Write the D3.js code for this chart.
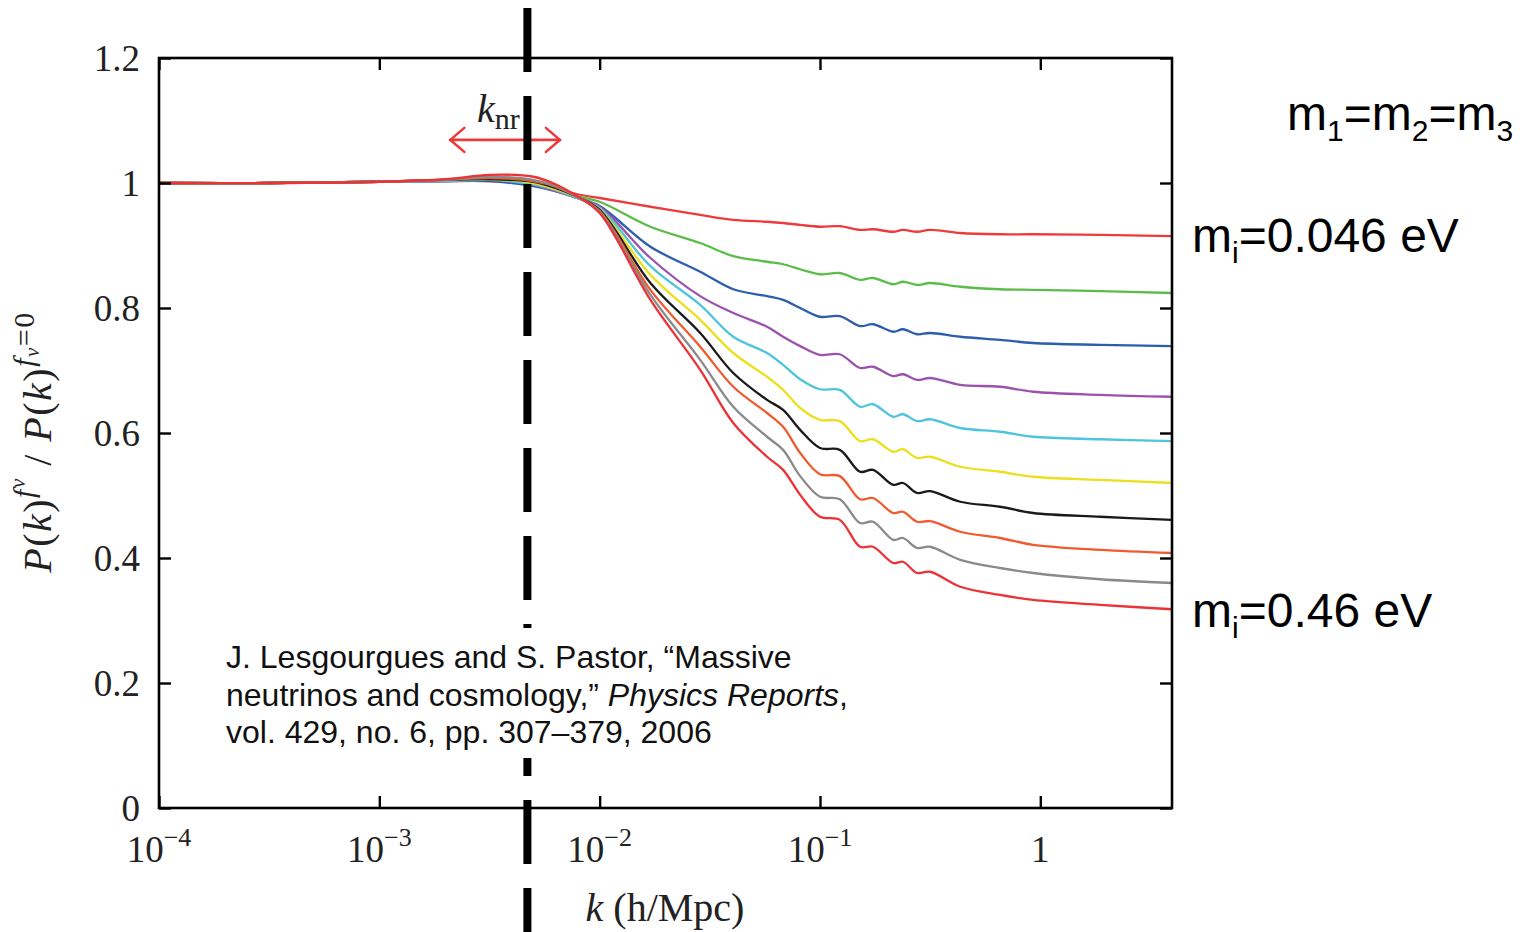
<!DOCTYPE html>
<html><head><meta charset="utf-8">
<script src="https://cdn.jsdelivr.net/npm/d3@7"></script>
<style>body{margin:0;background:#fff} svg{display:block}</style>
</head><body>
<svg id="c" width="1525" height="932"></svg>
<script>
// ---- data ----
const kValues = [0.0001, 0.000316, 0.001, 0.002, 0.00316, 0.005, 0.0063, 0.0079, 0.01, 0.017, 0.0286, 0.0404, 0.0575, 0.068, 0.0813, 0.1, 0.123, 0.152, 0.174, 0.215, 0.238, 0.276, 0.316, 0.433, 0.656, 0.927, 1.87, 3.96];
const seriesColors = ["#ee3a3c", "#5cbc4a", "#2d5ead", "#9b52ad", "#4fc4dd", "#ece01e", "#1a1a1a", "#f15a2e", "#8a8a8a", "#ec3237"];
const red1   = [1.000,1.000,1.002,1.003,1.003,0.998,0.992,0.982,0.976,0.962,0.949,0.941,0.938,0.936,0.933,0.930,0.931,0.925,0.926,0.922,0.925,0.922,0.925,0.920,0.918,0.918,0.917,0.915];
const green  = [1.000,1.000,1.002,1.003,1.005,0.998,0.990,0.979,0.970,0.930,0.904,0.883,0.874,0.870,0.862,0.854,0.856,0.845,0.848,0.838,0.842,0.837,0.840,0.834,0.830,0.829,0.827,0.824];
const blue   = [1.000,1.000,1.002,1.003,1.003,0.995,0.987,0.976,0.963,0.898,0.858,0.830,0.819,0.813,0.800,0.786,0.787,0.771,0.774,0.762,0.766,0.758,0.760,0.754,0.749,0.744,0.741,0.739];
const purple = [1.000,1.000,1.002,1.003,1.005,0.997,0.987,0.976,0.962,0.880,0.819,0.792,0.770,0.754,0.739,0.725,0.726,0.704,0.706,0.691,0.694,0.685,0.688,0.677,0.674,0.666,0.661,0.658];
const cyan   = [1.000,1.000,1.002,1.003,1.005,0.998,0.989,0.976,0.960,0.867,0.805,0.754,0.728,0.709,0.686,0.670,0.669,0.642,0.646,0.626,0.630,0.619,0.622,0.608,0.602,0.594,0.590,0.587];
const yellow = [1.000,1.000,1.002,1.005,1.006,1.000,0.990,0.978,0.958,0.853,0.781,0.728,0.690,0.669,0.640,0.621,0.619,0.587,0.590,0.570,0.574,0.560,0.562,0.546,0.538,0.530,0.525,0.520];
const black  = [1.000,1.000,1.002,1.005,1.006,1.002,0.992,0.978,0.957,0.840,0.760,0.696,0.653,0.637,0.605,0.576,0.573,0.538,0.541,0.517,0.520,0.504,0.507,0.490,0.482,0.472,0.466,0.461];
const orange = [1.000,1.000,1.002,1.005,1.008,1.003,0.994,0.978,0.955,0.829,0.738,0.674,0.632,0.610,0.568,0.534,0.531,0.494,0.496,0.472,0.474,0.458,0.459,0.442,0.432,0.421,0.413,0.408];
const gray   = [1.000,1.000,1.002,1.005,1.010,1.005,0.995,0.978,0.954,0.821,0.717,0.642,0.594,0.573,0.531,0.498,0.494,0.456,0.458,0.429,0.432,0.416,0.418,0.397,0.384,0.376,0.366,0.360];
const red2   = [1.000,1.000,1.002,1.006,1.013,1.010,0.998,0.979,0.952,0.813,0.701,0.616,0.562,0.541,0.501,0.466,0.461,0.418,0.418,0.392,0.394,0.376,0.378,0.354,0.341,0.333,0.325,0.318];
const seriesValues = [red1, green, blue, purple, cyan, yellow, black, orange, gray, red2];

const xTicks = [1e-4, 1e-3, 1e-2, 1e-1, 1];
const xTickBase = ["10", "10", "10", "10", "1"];
const xTickExp  = ["\u22124", "\u22123", "\u22122", "\u22121", ""];
const yTicks = [0, 0.2, 0.4, 0.6, 0.8, 1, 1.2];
const yTickLabels = ["0", "0.2", "0.4", "0.6", "0.8", "1", "1.2"];
const kNR = 0.0047;
const arrowK = [0.0021, 0.0066];
const arrowV = 1.069;
const citation = [
  [["J. Lesgourgues and S. Pastor, \u201cMassive", false]],
  [["neutrinos and cosmology,\u201d ", false], ["Physics Reports", true], [",", false]],
  [["vol. 429, no. 6, pp. 307\u2013379, 2006", false]]
];

// ---- drawing ----
const svg = d3.select("#c");
const L = 159, R = 1172, T = 58, B = 808;
const x = d3.scaleLog().domain([1e-4, 3.96]).range([L, R]);
const y = d3.scaleLinear().domain([0, 1.2]).range([B, T]);
const serif = "'Liberation Serif', 'DejaVu Serif', serif";
const sans = "'Liberation Sans', Arial, sans-serif";

// curves
const line = d3.line().x((d, i) => x(kValues[i])).y(d => y(d)).curve(d3.curveCatmullRom.alpha(0.5));
svg.append("g").selectAll("path").data(seriesValues).join("path")
  .attr("d", d => line(d)).attr("fill", "none")
  .attr("stroke", (d, i) => seriesColors[i]).attr("stroke-width", 2.3)
  .attr("stroke-linejoin", "round");

// axes (inward ticks)
function clean(g) { g.select(".domain").remove(); g.selectAll("text").remove(); g.selectAll("line").attr("stroke", "#000").attr("stroke-width", 2.4); }
svg.append("g").attr("transform", `translate(0,${B})`).call(d3.axisBottom(x).tickValues(xTicks).tickSize(-12)).call(clean);
svg.append("g").attr("transform", `translate(0,${T})`).call(d3.axisTop(x).tickValues(xTicks).tickSize(-12)).call(clean);
svg.append("g").attr("transform", `translate(${L},0)`).call(d3.axisLeft(y).tickValues(yTicks).tickSize(-12)).call(clean);
svg.append("g").attr("transform", `translate(${R},0)`).call(d3.axisRight(y).tickValues(yTicks).tickSize(-12)).call(clean);
svg.append("rect").attr("x", L).attr("y", T).attr("width", R - L).attr("height", B - T)
  .attr("fill", "none").attr("stroke", "#000").attr("stroke-width", 2.6);

// tick labels
svg.append("g").selectAll("text").data(yTicks).join("text")
  .attr("x", 140).attr("y", d => y(d)).attr("dy", "0.35em").attr("text-anchor", "end")
  .attr("font-family", serif).attr("font-size", 37).attr("fill", "#222").text((d, i) => yTickLabels[i]);
const xt = svg.append("g").selectAll("text").data(xTicks).join("text")
  .attr("x", d => x(d)).attr("y", 862).attr("text-anchor", "middle")
  .attr("font-family", serif).attr("font-size", 37).attr("fill", "#222");
xt.append("tspan").text((d, i) => xTickBase[i]);
xt.append("tspan").attr("font-size", 26).attr("dy", -16).text((d, i) => xTickExp[i]);

// axis titles
const xl = svg.append("text").attr("x", 665).attr("y", 921).attr("text-anchor", "middle")
  .attr("font-family", serif).attr("font-size", 40).attr("fill", "#222");
xl.append("tspan").attr("font-style", "italic").text("k");
xl.append("tspan").text(" (h/Mpc)");

const yl = svg.append("text").attr("transform", "translate(51,442) rotate(-90)").attr("text-anchor", "middle")
  .attr("font-family", serif).attr("font-size", 40).attr("letter-spacing", 1.5).attr("fill", "#222");
yl.append("tspan").attr("font-style", "italic").text("P");
yl.append("tspan").text("(");
yl.append("tspan").attr("font-style", "italic").text("k");
yl.append("tspan").text(")");
yl.append("tspan").attr("font-style", "italic").attr("font-size", 30).attr("dy", -17).text("f");
yl.append("tspan").attr("font-style", "italic").attr("font-size", 21).attr("dy", -9).text("\u03bd");
yl.append("tspan").attr("dy", 26).text(" / ");
yl.append("tspan").attr("font-style", "italic").text("P");
yl.append("tspan").text("(");
yl.append("tspan").attr("font-style", "italic").text("k");
yl.append("tspan").text(")");
yl.append("tspan").attr("font-style", "italic").attr("font-size", 30).attr("dy", -17).text("f");
yl.append("tspan").attr("font-style", "italic").attr("font-size", 21).attr("dy", 5).text("\u03bd");
yl.append("tspan").attr("font-size", 30).attr("dy", -5).text("=0");

// k_nr label and arrow
const kl = svg.append("text").attr("x", 477).attr("y", 122).attr("font-family", serif).attr("font-size", 40).attr("fill", "#222");
kl.append("tspan").attr("font-style", "italic").text("k");
kl.append("tspan").attr("font-size", 30).attr("dy", 7).text("nr");
const ay = y(arrowV), ax0 = x(arrowK[0]), ax1 = x(arrowK[1]);
const ag = svg.append("g").attr("stroke", "#ec3a3c").attr("stroke-width", 2.6).attr("fill", "none").attr("stroke-linecap", "round");
ag.append("line").attr("x1", ax0).attr("x2", ax1).attr("y1", ay).attr("y2", ay);
ag.append("path").attr("d", `M${ax0 + 14},${ay - 12} L${ax0},${ay} L${ax0 + 14},${ay + 12}`);
ag.append("path").attr("d", `M${ax1 - 14},${ay - 12} L${ax1},${ay} L${ax1 - 14},${ay + 12}`);

// dashed vertical line at k_nr
svg.append("line").attr("x1", x(kNR)).attr("x2", x(kNR)).attr("y1", 8).attr("y2", 932)
  .attr("stroke", "#000").attr("stroke-width", 8).attr("stroke-dasharray", "64 24");

// citation box
svg.append("rect").attr("x", 210).attr("y", 628).attr("width", 670).attr("height", 130).attr("fill", "#fff");
const ct = svg.append("g").attr("font-family", sans).attr("font-size", 32).attr("fill", "#111");
citation.forEach((parts, li) => {
  const t = ct.append("text").attr("x", 226).attr("y", 668 + li * 37.5);
  parts.forEach(p => t.append("tspan").attr("font-style", p[1] ? "italic" : "normal").text(p[0]));
});

// right annotations
const an = svg.append("g").attr("font-family", sans).attr("font-size", 48).attr("fill", "#000");
function mass(xp, yp, sub, rest) {
  const t = an.append("text").attr("x", xp).attr("y", yp);
  t.append("tspan").text("m");
  t.append("tspan").attr("font-size", 30).attr("dy", 11).text(sub);
  t.append("tspan").attr("dy", -11).text(rest);
  return t;
}
const eq = an.append("text").attr("x", 1287).attr("y", 130);
[["1", "="], ["2", "="], ["3", ""]].forEach(p => {
  eq.append("tspan").text("m");
  eq.append("tspan").attr("font-size", 30).attr("dy", 11).text(p[0]);
  eq.append("tspan").attr("dy", -11).text(p[1]);
});
mass(1192, 252, "i", "=0.046 eV");
mass(1192, 627, "i", "=0.46 eV");
</script>
</body></html>
